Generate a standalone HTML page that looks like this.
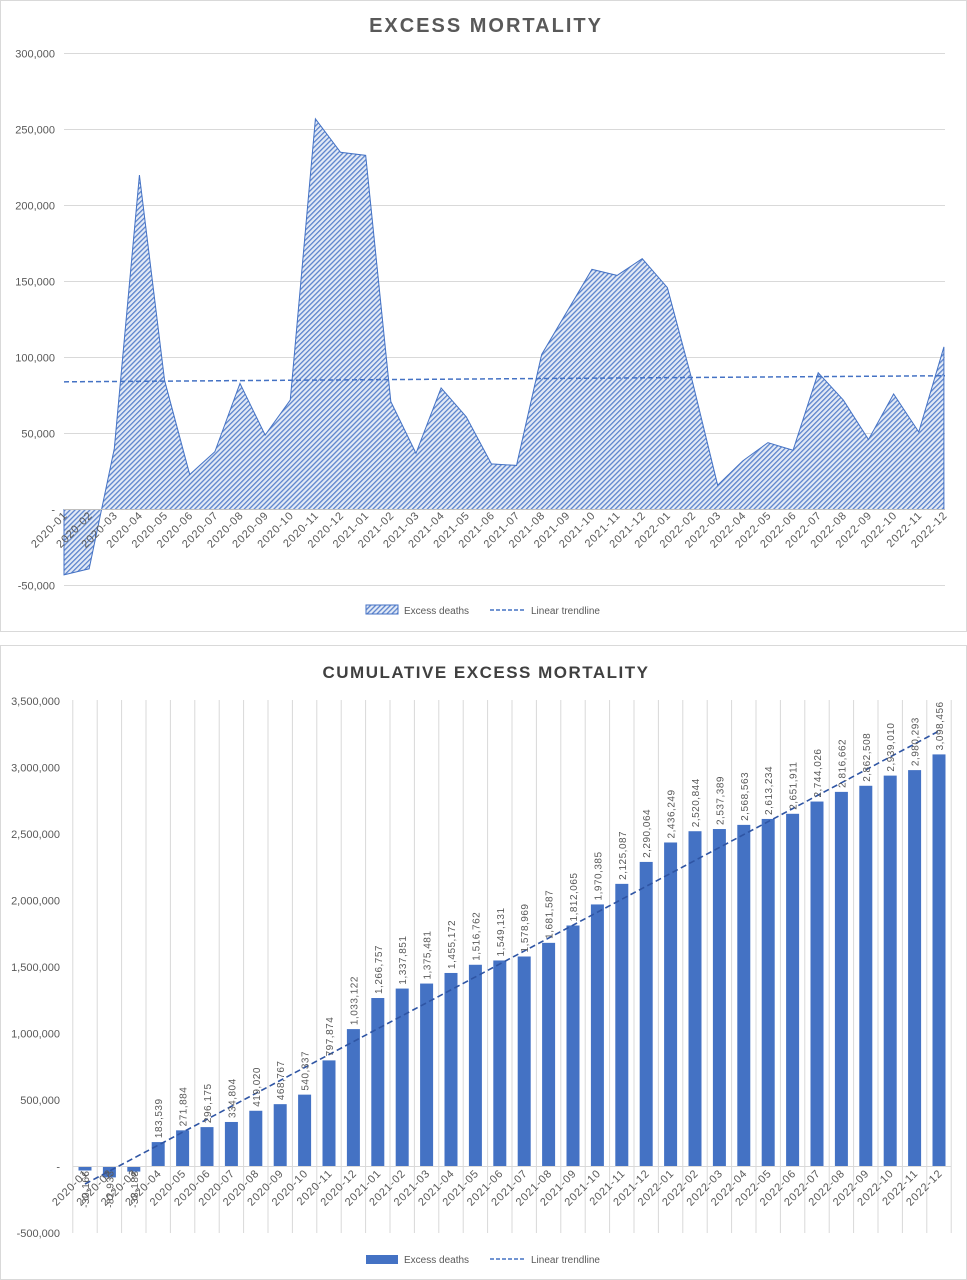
<!DOCTYPE html>
<html><head><meta charset="utf-8"><style>
html,body{margin:0;padding:0;background:#fff;width:967px;height:1280px;overflow:hidden}
svg{display:block;font-family:"Liberation Sans",sans-serif}
</style></head><body>
<svg id="s" width="967" height="1280" xmlns="http://www.w3.org/2000/svg">
<defs>
<pattern id="h" patternUnits="userSpaceOnUse" width="3.5" height="3.5" patternTransform="rotate(45)">
<rect width="3.5" height="3.5" fill="#e3eaf6"/><rect width="1.3" height="3.5" fill="#5b83cc"/>
</pattern>
</defs>
<rect x="0.5" y="0.5" width="966" height="631" fill="#fff" stroke="#d9d9d9"/>
<rect x="0.5" y="645.5" width="966" height="634" fill="#fff" stroke="#d9d9d9"/>
<text x="486" y="32" text-anchor="middle" font-size="20" font-weight="bold" fill="#595959" letter-spacing="2">EXCESS MORTALITY</text>
<text x="486" y="678" text-anchor="middle" font-size="17" font-weight="bold" fill="#404040" letter-spacing="1.5">CUMULATIVE EXCESS MORTALITY</text>
<g id="g"></g>
</svg>
<script>
var g=document.getElementById('g'),o='';
var cats=[];for(var y=2020;y<=2022;y++)for(var m=1;m<=12;m++)cats.push(y+'-'+(m<10?'0':'')+m);
var ex=[-43000,-39000,40000,220000,85000,23000,38000,83000,49000,72000,257000,235000,233000,71000,37000,80000,61000,30000,29000,102000,130000,158000,154000,165000,146000,84000,16000,32000,44000,39000,90000,72000,46000,76000,51000,107000];
function f(n){return n==0?'-':n.toLocaleString('en-US');}
function X1(i){return 64+i*25.14;} function Y1(v){return 509.5-v/50000*76;}
for(var v=-50000;v<=300000;v+=50000){var yy=Y1(v);
 if(v!=0)o+='<line x1="64" x2="945" y1="'+yy+'" y2="'+yy+'" stroke="#d9d9d9"/>';
 o+='<text x="55" y="'+(yy+4)+'" text-anchor="end" font-size="11" fill="#595959">'+f(v)+'</text>';}
var p='M'+X1(0)+','+Y1(0);for(var i=0;i<36;i++)p+=' L'+X1(i)+','+Y1(ex[i]);p+=' L'+X1(35)+','+Y1(0)+'Z';
o+='<path d="'+p+'" fill="url(#h)" stroke="#4472c4" stroke-width="1"/>';
o+='<line x1="64" x2="945" y1="'+Y1(0)+'" y2="'+Y1(0)+'" stroke="#bfbfbf"/>';
o+='<line x1="64" x2="945" y1="'+Y1(84000)+'" y2="'+Y1(88000)+'" stroke="#4472c4" stroke-width="1.5" stroke-dasharray="5,3"/>';
for(var i=0;i<36;i++){var x=X1(i)+4,yy=516;
 o+='<text transform="translate('+x+','+yy+') rotate(-45)" text-anchor="end" font-size="11" fill="#595959" letter-spacing="0.8">'+cats[i]+'</text>';}
o+='<rect x="366" y="605" width="32" height="9" fill="url(#h)" stroke="#4472c4"/><text x="404" y="614" font-size="10" fill="#595959">Excess deaths</text>';
o+='<line x1="490" x2="525" y1="610" y2="610" stroke="#4472c4" stroke-width="1.5" stroke-dasharray="4,2"/><text x="531" y="614" font-size="10" fill="#595959">Linear trendline</text>';
var cu=[-30166,-81933,-38188,183539,271884,296175,334804,419020,468767,540337,797874,1033122,1266757,1337851,1375481,1455172,1516762,1549131,1578969,1681587,1812065,1970385,2125087,2290064,2436249,2520844,2537389,2568563,2613234,2651911,2744026,2816662,2862508,2939010,2980293,3098456];
var L=72.8,W=24.4;function X2(i){return L+W*(i+0.5);} function Y2(v){return 1166.5-v/500000*66.5;}
for(var i=0;i<=36;i++){var x=L+W*i;o+='<line x1="'+x+'" x2="'+x+'" y1="700" y2="1233" stroke="#d9d9d9"/>';}
for(var v=-500000;v<=3500000;v+=500000){var yy=Y2(v);
 o+='<text x="60" y="'+(yy+4)+'" text-anchor="end" font-size="11" fill="#595959">'+f(v)+'</text>';}
for(var i=0;i<36;i++){var x=X2(i),y0=Y2(0),y1=Y2(cu[i]);
 o+='<rect x="'+(x-6.5)+'" y="'+Math.min(y0,y1)+'" width="13" height="'+Math.abs(y1-y0)+'" fill="#4472c4"/>';}
o+='<line x1="'+L+'" x2="'+(L+W*36)+'" y1="'+Y2(0)+'" y2="'+Y2(0)+'" stroke="#d9d9d9"/>';
o+='<line x1="85" x2="939" y1="1184" y2="731" stroke="#2f55a4" stroke-width="1.6" stroke-dasharray="6,3.5"/>';
for(var i=0;i<36;i++){var x=X2(i),v=cu[i];var yy=v>0?Y2(v)-4:Y2(0)+4;
 o+='<text transform="translate('+(x+4)+','+yy+') rotate(-90)" text-anchor="'+(v>0?'start':'end')+'" font-size="10" fill="#595959" letter-spacing="0.5">'+f(v)+'</text>';}
for(var i=0;i<36;i++){var x=X2(i)+4,yy=1174;
 o+='<text transform="translate('+x+','+yy+') rotate(-45)" text-anchor="end" font-size="11" fill="#595959" letter-spacing="0.8">'+cats[i]+'</text>';}
o+='<rect x="366" y="1255" width="32" height="9" fill="#4472c4"/><text x="404" y="1263" font-size="10" fill="#595959">Excess deaths</text>';
o+='<line x1="490" x2="525" y1="1259" y2="1259" stroke="#4472c4" stroke-width="1.5" stroke-dasharray="4,2"/><text x="531" y="1263" font-size="10" fill="#595959">Linear trendline</text>';
g.innerHTML=o;
</script>
</body></html>
